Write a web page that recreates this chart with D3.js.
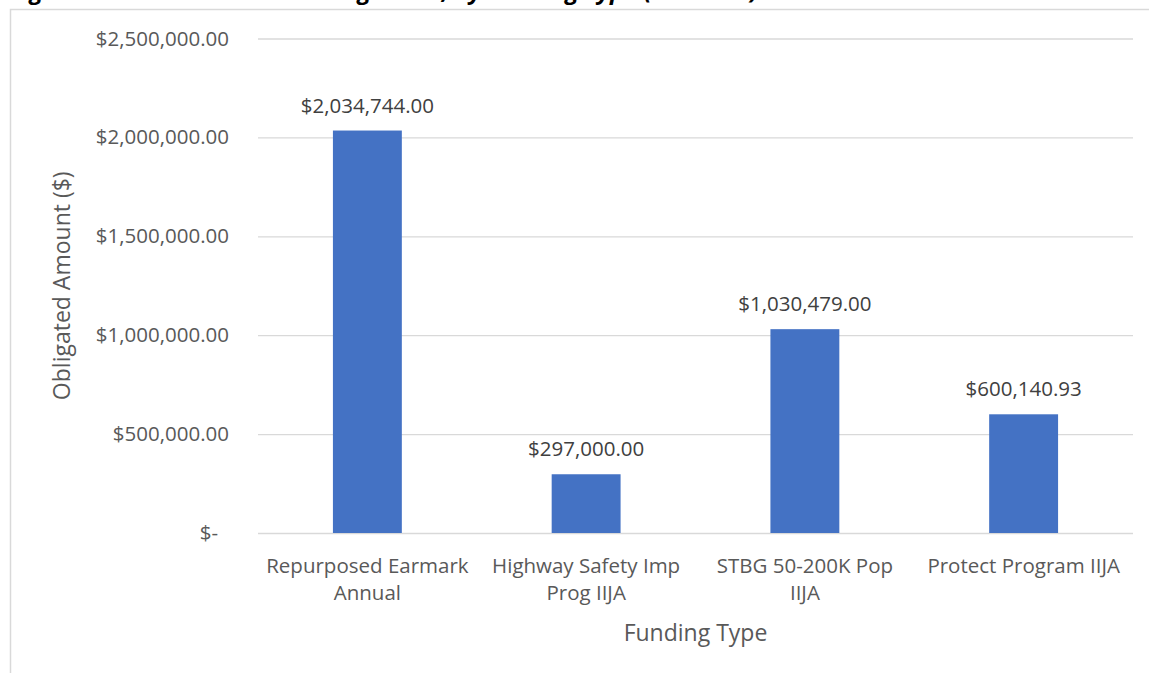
<!DOCTYPE html>
<html>
<head>
<meta charset="utf-8">
<script src="https://cdn.jsdelivr.net/npm/d3@7"></script>
<style>
  body { margin: 0; background: #fff; }
  svg { display: block; font-family: "Open Sans", sans-serif; }
</style>
</head>
<body>
<svg id="chart"></svg>
<script>
// chart data
const categories = ["Repurposed Earmark Annual", "Highway Safety Imp Prog IIJA", "STBG 50-200K Pop IIJA", "Protect Program IIJA"];
const categoryLines = [["Repurposed Earmark", "Annual"], ["Highway Safety Imp", "Prog IIJA"], ["STBG 50-200K Pop", "IIJA"], ["Protect Program IIJA"]];
const obligated = [2034744.00, 297000.00, 1030479.00, 600140.93];
const yTicks = [0, 500000, 1000000, 1500000, 2000000, 2500000];

const W = 1149, H = 673;
const plot = { left: 258, right: 1133, top: 38.5, bottom: 533 };
const fs = 20.5;

const svg = d3.select("#chart").attr("width", W).attr("height", H);

// title, mostly cut off at the top of the picture
svg.append("text")
    .attr("x", 10)
    .attr("y", -1)
    .attr("font-size", 24)
    .attr("font-weight", "bold")
    .attr("font-style", "italic")
    .attr("fill", "#000")
    .text("Figure 5: Total Federal Aid Obligations, by Funding Type (FFY 2024)");

// chart area border
svg.append("rect")
    .attr("x", 10.5)
    .attr("y", 9.5)
    .attr("width", W + 20)
    .attr("height", H + 20)
    .attr("fill", "none")
    .attr("stroke", "#d9d9d9")
    .attr("stroke-width", 1.5);

const x = d3.scaleBand()
    .domain(categories)
    .range([plot.left, plot.right])
    .paddingInner(0.685)
    .paddingOuter(0.3425);

const y = d3.scaleLinear()
    .domain([0, 2500000])
    .range([plot.bottom, plot.top]);

const money = d3.format("$,.2f");

// y axis with gridlines
const yAxis = d3.axisLeft(y)
    .tickValues(yTicks)
    .tickSize(-(plot.right - plot.left))
    .tickPadding(29)
    .tickFormat(d => d === 0 ? "$-" : money(d));

const gy = svg.append("g")
    .attr("transform", `translate(${plot.left},0)`)
    .call(yAxis);
gy.select(".domain").remove();
gy.selectAll(".tick line").attr("stroke", "#d9d9d9").attr("stroke-width", 1.3);
gy.selectAll(".tick text")
    .attr("fill", "#595959")
    .attr("font-size", fs)
    .attr("font-family", "Open Sans, sans-serif");
gy.selectAll(".tick").filter(d => d === 0).select("text").attr("x", -40);

// bars
svg.append("g")
    .selectAll("rect")
    .data(obligated)
    .join("rect")
    .attr("x", (d, i) => x(categories[i]))
    .attr("y", d => y(d))
    .attr("width", x.bandwidth())
    .attr("height", d => y(0) - y(d))
    .attr("fill", "#4472c4");

// data labels
svg.append("g")
    .selectAll("text")
    .data(obligated)
    .join("text")
    .attr("x", (d, i) => x(categories[i]) + x.bandwidth() / 2)
    .attr("y", d => y(d) - 18)
    .attr("text-anchor", "middle")
    .attr("fill", "#404040")
    .attr("font-size", fs)
    .text(d => money(d));

// x axis labels
const xAxis = d3.axisBottom(x).tickSize(0).tickPadding(0).tickFormat("");
const gx = svg.append("g")
    .attr("transform", `translate(0,${plot.bottom})`)
    .call(xAxis);
gx.select(".domain").remove();
gx.selectAll(".tick").each(function (d, i) {
    const t = d3.select(this).append("text")
        .attr("fill", "#595959")
        .attr("font-size", fs)
        .attr("font-family", "Open Sans, sans-serif")
        .attr("text-anchor", "middle");
    categoryLines[i].forEach((line, j) => {
        t.append("tspan")
            .attr("x", 0)
            .attr("y", 40 + j * 27)
            .text(line);
    });
});

// axis titles
svg.append("text")
    .attr("x", (plot.left + plot.right) / 2)
    .attr("y", 641)
    .attr("text-anchor", "middle")
    .attr("fill", "#595959")
    .attr("font-size", 23)
    .text("Funding Type");

svg.append("text")
    .attr("transform", `translate(70,${(plot.top + plot.bottom) / 2}) rotate(-90)`)
    .attr("text-anchor", "middle")
    .attr("fill", "#595959")
    .attr("font-size", 23)
    .text("Obligated Amount ($)");
</script>
</body>
</html>
